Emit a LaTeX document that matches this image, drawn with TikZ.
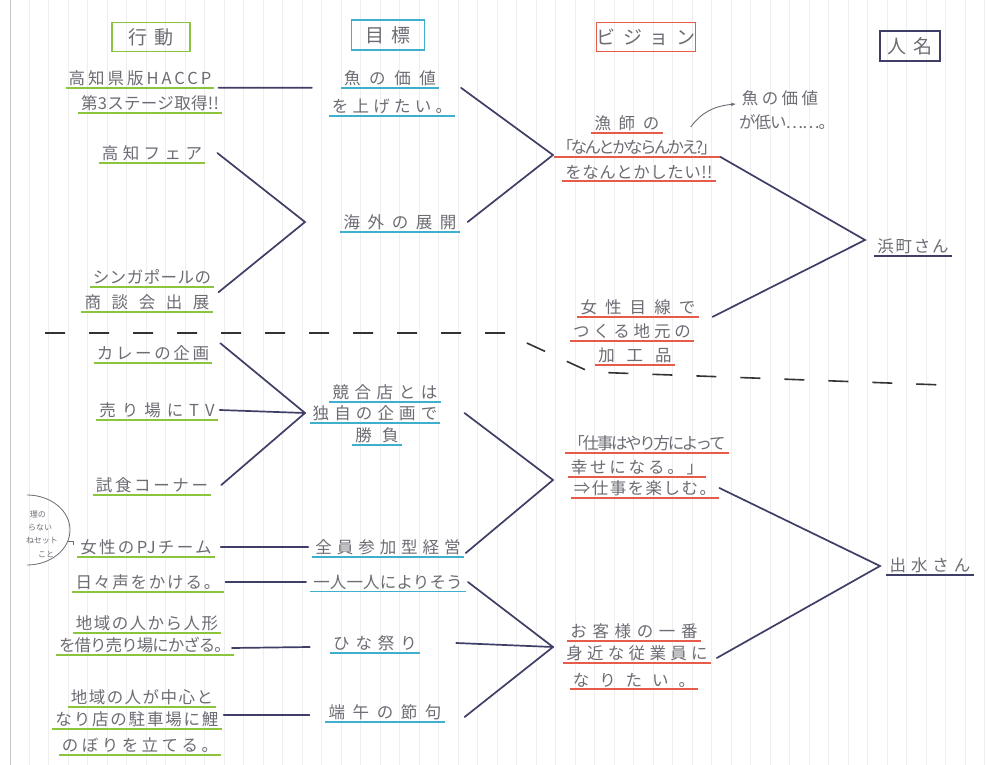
\documentclass[tikz,border=0pt]{standalone}
\usepackage{fontspec}
\newfontfamily\jp{Noto Sans CJK JP}
\usetikzlibrary{arrows.meta}
\definecolor{pencil}{RGB}{108,108,116}
\definecolor{ugreen}{RGB}{140,196,62}
\definecolor{ucyan}{RGB}{62,176,206}
\definecolor{ured}{RGB}{230,92,72}
\definecolor{navy}{RGB}{62,62,102}
\definecolor{gridc}{RGB}{238,238,240}
\begin{document}
\begin{tikzpicture}[x=1pt,y=-1pt,
  ls/.style={font=\jp\fontsize{16.5}{19}\selectfont\addfontfeature{LetterSpace=#1}},
  lbl/.style={inner xsep=3pt, inner ysep=2pt, text=pencil},
  ul/.style={append after command={\pgfextra{\let\ulnode\tikzlastnode}
      (\ulnode.south west) edge[draw=#1, line width=1.9pt] (\ulnode.south east)}},
  act/.style={lbl, ls=#1, ul=ugreen},
  goal/.style={lbl, ls=#1, ul=ucyan},
  vis/.style={lbl, ls=#1, ul=ured},
  who/.style={lbl, ls=#1, ul=navy},
  note/.style={lbl, ls=#1},
  hdr/.style={draw=#1, line width=1.5pt, text=pencil, inner sep=0pt,
      font=\jp\fontsize{19}{22}\selectfont\addfontfeature{LetterSpace=40}},
  conn/.style={draw=navy, line width=1.7pt, line cap=round},
  divider/.style={draw=black!80, line width=1.6pt, dash pattern=on 20pt off 24pt},
]
% paper
\useasboundingbox (0,0) rectangle (986,765);
\fill[white] (0,0) rectangle (986,765);
\foreach \gx in {29,48.5,...,986} \draw[gridc, line width=0.5pt] (\gx,0) -- (\gx,765);
\draw[black!22, line width=0.8pt] (10,0) -- (10,765);

% column headers
\node[hdr=ugreen, minimum width=78, minimum height=29] (h1) at (151,37) {行動};
\node[hdr=ucyan, minimum width=73, minimum height=30] (h2) at (388,35) {目標};
\node[hdr=ured, minimum width=93, minimum height=29] (h3) at (646,37) {ビジョン};
\node[hdr=navy, minimum width=60, minimum height=30] (h4) at (910,46) {人名};

% actions
\node[act=18] (a1) at (140,78) {高知県版HACCP};
\node[act=2] (a1b) at (150,103) {第3ステージ取得!!};
\node[act=27] (a2) at (152,153) {高知フェア};
\node[act=3] (a3) at (152,277) {シンガポールの};
\node[act=64] (a3b) at (147,302) {商談会出展};
\node[act=16] (a4) at (153,353) {カレーの企画};
\node[act=36] (a5) at (157,410) {売り場にTV};
\node[act=16] (a6) at (152,485) {試食コーナー};
\node[act=14] (a7) at (146,547) {女性のPJチーム};
\node[act=11] (a8) at (148,582) {日々声をかける。};
\node[act=9] (a9) at (147,623) {地域の人から人形};
\node[act=-6] (a9b) at (145,645) {を借り売り場にかざる。};
\node[act=9] (a10) at (142,697) {地域の人が中心と};
\node[act=11] (a10b) at (137,719) {なり店の駐車場に鯉};
\node[act=21] (a10c) at (140,745) {のぼりを立てる。};

% side remark next to the project team
\begin{scope}[every node/.style={text=pencil, inner sep=0pt,
    font=\jp\fontsize{8}{9}\selectfont}]
  \node (s1) at (38,515) {理の};
  \node (s2) at (40,528) {らない};
  \node (s3) at (42,541) {ねセット};
  \node (s4) at (46,554) {こと};
\end{scope}
\draw[pencil, line width=0.8pt] (27,495) arc[x radius=43, y radius=35, start angle=-90, end angle=90];
\draw[pencil, line width=0.8pt] (68,541) -- (73,541) -- (73,545);

% goals
\node[goal=52] (g1) at (390,78) {魚の価値};
\node[goal=26] (g1b) at (392,106) {を上げたい。};
\node[goal=46] (g2) at (400,222) {海外の展開};
\node[goal=34] (g3) at (385,392) {競合店とは};
\node[goal=31] (g3b) at (375,413) {独自の企画で};
\node[goal=61] (g3c) at (377,435) {勝負};
\node[goal=30] (g4) at (388,547) {全員参加型経営};
\node[goal=1] (g5) at (388,582) {一人一人によりそう};
\node[goal=36] (g6) at (375,643) {ひな祭り};
\node[goal=46] (g7) at (385,712) {端午の節句};

% visions
\node[vis=47] (v1) at (627,123) {漁師の};
\node[vis=-16] (v1b) at (637,147) {「なんとかならんかえ?」};
\node[vis=3] (v1c) at (639,172) {をなんとかしたい!!};
\node[note=21] (m1) at (780,98) {魚の価値};
\node[note=-6] (m1b) at (787,122) {が低い……。};
\draw[pencil, line width=0.9pt, -{Stealth[length=5pt]}]
  ([xshift=28,yshift=-4]v1.east) .. controls (702,112) and (714,106) .. ([xshift=-3,yshift=-6]m1.west);
\node[vis=49] (v2) at (638,307) {女性目線で};
\node[vis=23] (v2b) at (632,331) {つくる地元の};
\node[vis=72] (v2c) at (635,355) {加工品};
\node[vis=-14] (v3) at (647,443) {「仕事はやり方によって};
\node[vis=17] (v3b) at (637,467) {幸せになる。」};
\node[vis=9] (v3c) at (645,488) {⇒仕事を楽しむ。};
\node[vis=34] (v4) at (634,631) {お客様の一番};
\node[vis=26] (v4b) at (637,653) {身近な従業員に};
\node[vis=60] (v4c) at (634,680) {なりたい。};

% people
\node[who=11] (p1) at (913,246) {浜町さん};
\node[who=30] (p2) at (930,565) {出水さん};

% junction points
\coordinate (j1) at (305,222);
\coordinate (j2) at (553,155);
\coordinate (j3) at (865,240);
\coordinate (j4) at (305,413);
\coordinate (j5) at (553,480);
\coordinate (j6) at (553,647);
\coordinate (j7) at (880,566);

% connectors: actions to goals
\draw[conn] ([xshift=4]a1.south east) -- ([xshift=-29]g1.south west);
\draw[conn] ([xshift=12]a2.east) -- (j1) -- ([xshift=6]a3b.north east);
\draw[conn] ([xshift=8]a4.north east) -- (j4);
\draw[conn] ([xshift=2]a5.east) -- (j4);
\draw[conn] ([xshift=10]a6.east) -- (j4);
\draw[conn] ([xshift=6]a7.east) -- ([xshift=-4]g4.west);
\draw[conn] ([xshift=2]a8.east) -- ([xshift=-4]g5.west);
\draw[conn] ([xshift=-2,yshift=-3]a9b.east) -- ([xshift=-20,yshift=-4]g6.west);
\draw[conn] ([xshift=2,yshift=4]a10b.east) -- ([xshift=-16,yshift=-3]g7.west);
% goals to visions
\draw[conn] ([xshift=22]g1.south east) -- (j2) -- ([xshift=8]g2.east);
\draw[conn] ([xshift=24]g3b.east) -- (j5) -- ([xshift=2,yshift=-6]g4.east);
\draw[conn] ([xshift=2]g5.east) -- (j6);
\draw[conn] ([xshift=36]g6.east) -- (j6);
\draw[conn] ([xshift=20,yshift=-5]g7.east) -- (j6);
% visions to people
\draw[conn] (v1b.south east) -- (j3) -- ([xshift=14]v2.south east);
\draw[conn] (v3c.east) -- (j7) -- ([xshift=6,yshift=-5]v4b.east);

% boundary between the two people's sheets
\draw[divider] (45,333) -- (505,333) -- (590,372) -- (943,385);
\end{tikzpicture}
\end{document}
